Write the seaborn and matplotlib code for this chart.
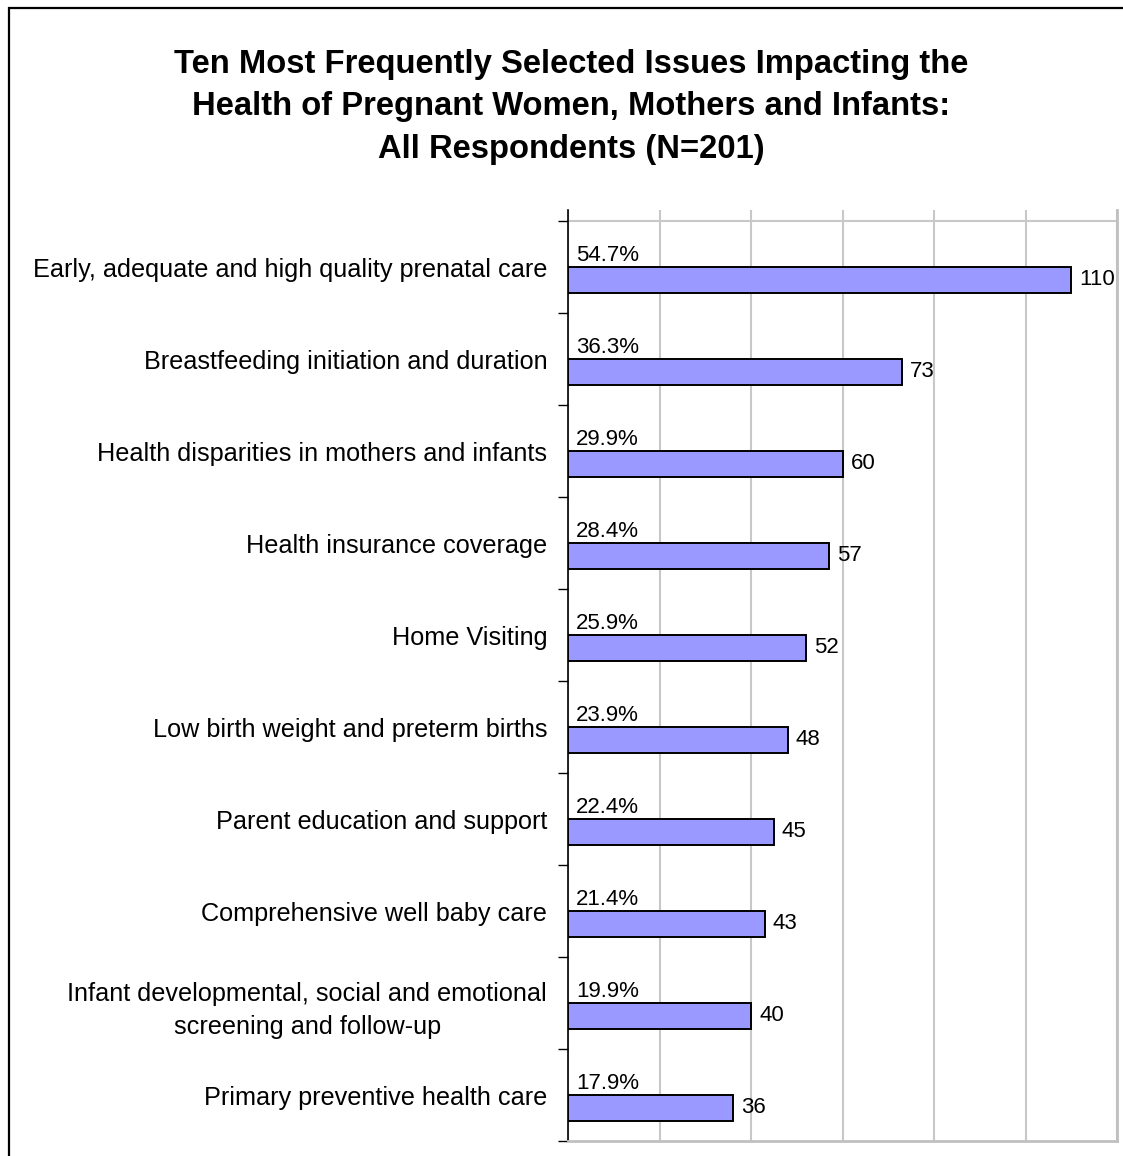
import matplotlib
matplotlib.use("Agg")
import matplotlib.pyplot as plt
from matplotlib.patches import Rectangle
import pandas as pd
import seaborn as sns

# values
issues = [
    "Early, adequate and high quality prenatal care",
    "Breastfeeding initiation and duration",
    "Health disparities in mothers and infants",
    "Health insurance coverage",
    "Home Visiting",
    "Low birth weight and preterm births",
    "Parent education and support",
    "Comprehensive well baby care",
    "Infant developmental, social and emotional\nscreening and follow-up",
    "Primary preventive health care",
]
counts = [110, 73, 60, 57, 52, 48, 45, 43, 40, 36]
pct_labels = ["54.7%", "36.3%", "29.9%", "28.4%", "25.9%",
              "23.9%", "22.4%", "21.4%", "19.9%", "17.9%"]
x_ticks = [0, 20, 40, 60, 80, 100, 120]

title = ("Ten Most Frequently Selected Issues Impacting the\n"
         "Health of Pregnant Women, Mothers and Infants:\n"
         "All Respondents (N=201)")

BAR = "#9999FF"
GRID = "#C8C8C8"
W, H = 1123, 1156


def main():
    sns.set_theme(style="white")
    plt.rcParams["font.family"] = ["Liberation Sans", "DejaVu Sans"]
    plt.rcParams["text.color"] = "black"
    plt.rcParams["ytick.labelcolor"] = "black"

    fig = plt.figure(figsize=(W / 100, H / 100), dpi=100)
    ax = fig.add_axes([568 / W, 1 - 1141 / H, (1117 - 568) / W, (1141 - 210) / H])

    # bars sit in the lower half of each slot, top edge at slot centre
    bw = 0.28
    df = pd.DataFrame({
        "count": counts,
        "pos": [i + bw / 2 for i in range(len(counts))],
    })
    sns.barplot(data=df, x="count", y="pos", orient="h", native_scale=True,
                width=bw, color=BAR, saturation=1, edgecolor="black",
                linewidth=1.4, ax=ax, zorder=3)

    ax.set_xlim(0, 120)
    ax.set_ylim(len(counts) - 0.5, -0.62)
    ax.set_xticks(x_ticks)
    ax.set_xticklabels([])
    ax.tick_params(axis="x", length=0)
    ax.xaxis.grid(True, color=GRID, linewidth=1.5, zorder=0)
    ax.set_axisbelow(True)
    ax.axhline(-0.5, color=GRID, linewidth=1.5, zorder=1)

    # boundary ticks (major) and category labels (minor)
    ax.set_yticks([i - 0.5 for i in range(len(counts) + 1)])
    ax.set_yticklabels([])
    ax.tick_params(axis="y", which="major", direction="out", length=7.2,
                   width=1.0, color="black", left=True)
    ax.set_yticks(range(len(counts)), minor=True)
    ax.set_yticklabels(issues, minor=True, fontsize=18.2, linespacing=1.5,
                       multialignment="center", color="black")
    ax.tick_params(axis="y", which="minor", length=0, pad=15)
    ax.set_xlabel("")
    ax.set_ylabel("")

    for side in ["top", "right", "bottom"]:
        ax.spines[side].set_color("#C0C0C0")
        ax.spines[side].set_linewidth(2)
    ax.spines["top"].set_visible(False)
    ax.spines["left"].set_color("black")
    ax.spines["left"].set_linewidth(1.2)

    for i, (c, p) in enumerate(zip(counts, pct_labels)):
        ax.annotate(p, xy=(0, i), xytext=(5.8, 1), textcoords="offset points",
                    ha="left", va="bottom", fontsize=16, color="black")
        ax.annotate(str(c), xy=(c, i + bw / 2), xytext=(5.8, 0),
                    textcoords="offset points", ha="left", va="center",
                    fontsize=16, color="black")

    fig.text(571 / W, 1 - 107 / H, title, ha="center", va="center",
             fontsize=23.6, fontweight="bold", linespacing=1.48, color="black")

    # outer chart frame (only left and top edges fall inside the picture)
    fig.patches.append(Rectangle((8.5 / W, -0.05), 1.2, 1 - 8.5 / H + 0.05,
                                 transform=fig.transFigure, fill=False,
                                 edgecolor="black", linewidth=1.6))

    fig.savefig("out.png", dpi=100)
    plt.close(fig)


if __name__ == "__main__":
    main()
